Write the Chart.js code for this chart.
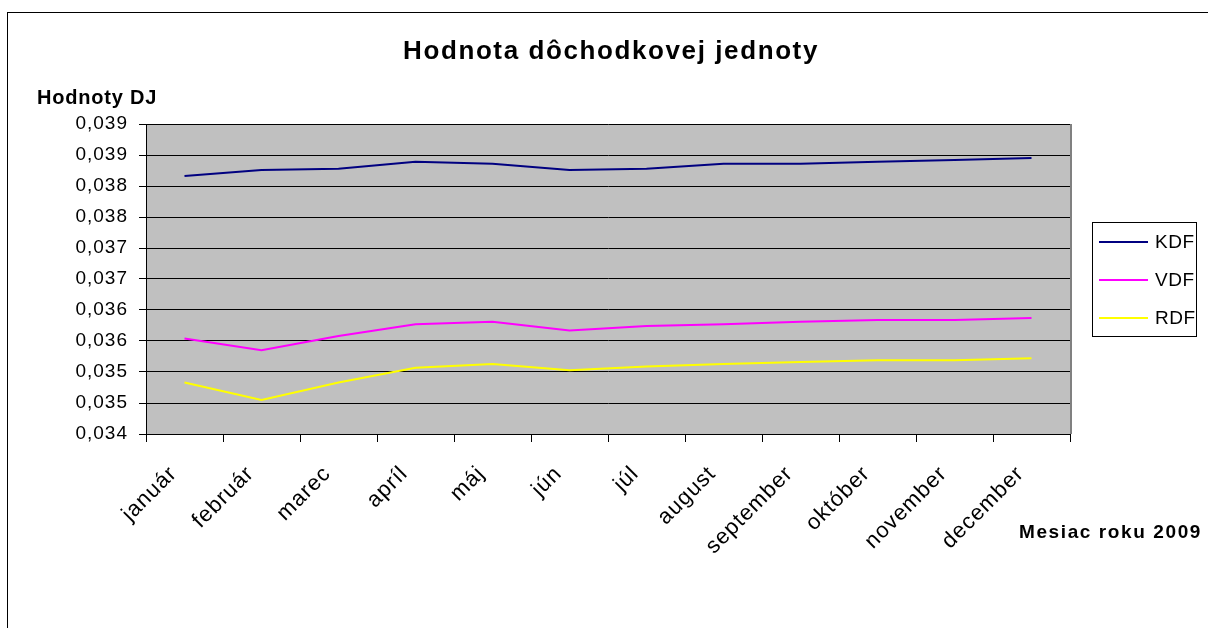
<!DOCTYPE html>
<html>
<head>
<meta charset="utf-8">
<script src="https://cdn.jsdelivr.net/npm/chart.js@4"></script>
<style>
  html, body { margin: 0; padding: 0; background: #fff; }
  #wrap { position: relative; width: 1208px; height: 628px; overflow: hidden; }
  #frame { position: absolute; left: 7px; top: 12px; width: 1300px; height: 700px; border: 1px solid #000; }
  canvas { position: absolute; left: 0; top: 0; }
</style>
</head>
<body>
<div id="wrap">
  <div id="frame"></div>
  <canvas id="chart" width="1208" height="628"></canvas>
</div>
<script>
const months = ["január", "február", "marec", "apríl", "máj", "jún", "júl", "august", "september", "október", "november", "december"];
const kdf = [0.03816, 0.03826, 0.03828, 0.03839, 0.03836, 0.03826, 0.03828, 0.03836, 0.03836, 0.03839, 0.03842, 0.03845];
const vdf = [0.03554, 0.03535, 0.03558, 0.03577, 0.03581, 0.03567, 0.03574, 0.03577, 0.03581, 0.03584, 0.03584, 0.03587];
const rdf = [0.03483, 0.03455, 0.03483, 0.03507, 0.03513, 0.03503, 0.03509, 0.03513, 0.03516, 0.03519, 0.03519, 0.03522];
const yTickLabels = ["0,034", "0,035", "0,035", "0,036", "0,036", "0,037", "0,037", "0,038", "0,038", "0,039", "0,039"];

const seriesNames = ["KDF", "VDF", "RDF"];
const seriesColors = ["#000080", "#ff00ff", "#ffff00"];

const FONT = '"Liberation Sans", Arial, sans-serif';
Chart.defaults.color = "#000";
Chart.defaults.font.family = FONT;

// plot background, titles, legend box
const decor = {
  id: "decor",
  beforeDraw(chart) {
    const { ctx, chartArea: a } = chart;
    ctx.save();
    ctx.fillStyle = "#c0c0c0";
    ctx.fillRect(a.left, a.top, a.right - a.left, a.bottom - a.top);
    ctx.restore();
    ctx.letterSpacing = "1px";
  },
  afterDraw(chart) {
    const { ctx, chartArea: a } = chart;
    ctx.save();
    // right edge of plot area
    ctx.strokeStyle = "#808080";
    ctx.lineWidth = 2;
    ctx.beginPath();
    ctx.moveTo(a.right + 1, a.top);
    ctx.lineTo(a.right + 1, a.bottom);
    ctx.stroke();

    ctx.fillStyle = "#000";
    ctx.textBaseline = "alphabetic";
    ctx.font = "bold 26px " + FONT;
    ctx.letterSpacing = "1.6px";
    ctx.textAlign = "center";
    ctx.fillText("Hodnota dôchodkovej jednoty", 611, 59);

    ctx.font = "bold 20px " + FONT;
    ctx.letterSpacing = "0.8px";
    ctx.textAlign = "left";
    ctx.fillText("Hodnoty DJ", 37, 104);

    ctx.font = "bold 19px " + FONT;
    ctx.letterSpacing = "1.6px";
    ctx.fillText("Mesiac roku 2009", 1019, 538);

    // legend
    ctx.letterSpacing = "0.5px";
    ctx.strokeStyle = "#000";
    ctx.lineWidth = 1;
    ctx.strokeRect(1092.5, 222.5, 104, 114);
    ctx.font = "19px " + FONT;
    ctx.textBaseline = "middle";
    chart.data.datasets.forEach((ds, i) => {
      const y = 242 + i * 38;
      ctx.strokeStyle = ds.borderColor;
      ctx.lineWidth = 2;
      ctx.beginPath();
      ctx.moveTo(1099, y);
      ctx.lineTo(1148, y);
      ctx.stroke();
      ctx.fillText(ds.label, 1155, y + 1);
    });
    ctx.restore();
  }
};

new Chart(document.getElementById("chart"), {
  type: "line",
  data: {
    labels: months,
    datasets: [kdf, vdf, rdf].map((d, i) => ({
      label: seriesNames[i],
      data: d,
      borderColor: seriesColors[i],
      borderWidth: 2,
      pointRadius: 0,
      tension: 0
    }))
  },
  options: {
    responsive: false,
    animation: false,
    layout: { padding: { top: 124, right: 138, left: 0, bottom: 0 } },
    plugins: { legend: { display: false }, tooltip: { enabled: false } },
    scales: {
      x: {
        offset: true,
        grid: { offset: true, drawOnChartArea: false, color: "#000", tickLength: 8 },
        border: { color: "#000", width: 1 },
        ticks: { autoSkip: false, minRotation: 45, maxRotation: 45, font: { size: 22 }, padding: 19, labelOffset: -11 },
        afterFit(scale) { scale.height = 194; }
      },
      y: {
        min: 0.034,
        max: 0.039,
        grid: { color: "#000", tickLength: 7 },
        border: { color: "#000", width: 1 },
        ticks: {
          stepSize: 0.0005,
          font: { size: 19 },
          padding: 11,
          callback: (v, i) => yTickLabels[i]
        },
        afterFit(scale) { scale.width = 146; }
      }
    }
  },
  plugins: [decor]
});
</script>
</body>
</html>
